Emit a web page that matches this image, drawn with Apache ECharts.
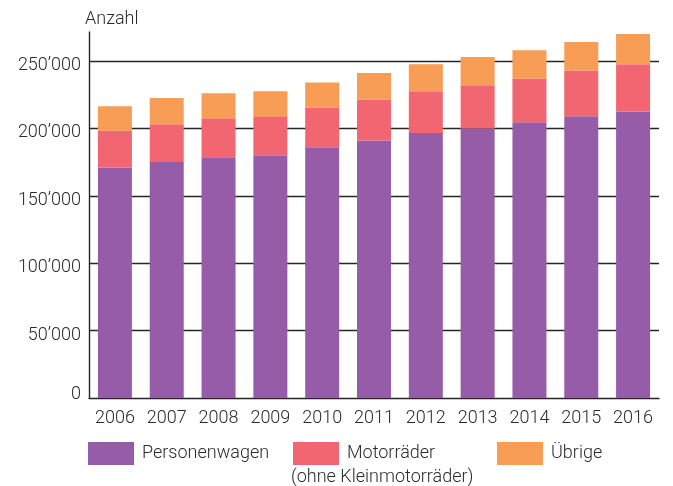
<!DOCTYPE html>
<html>
<head>
<meta charset="utf-8">
<script src="https://cdn.jsdelivr.net/npm/echarts@6/dist/echarts.min.js"></script>
<style>
  html, body { margin: 0; padding: 0; background: #fff; }
  #chart { width: 673px; height: 486px; }
</style>
</head>
<body>
<div id="chart"></div>
<script>
const years = ['2006', '2007', '2008', '2009', '2010', '2011', '2012', '2013', '2014', '2015', '2016'];
const personenwagen = [171000, 175000, 178500, 180000, 186000, 191000, 196500, 200000, 204500, 209000, 212500];
const motorraeder = [27500, 28000, 29000, 29000, 29500, 30500, 31000, 32000, 32500, 34000, 35000];
const uebrige = [18000, 19500, 18500, 18500, 18500, 19500, 20000, 21000, 21000, 21000, 22500];

const FONT = 'Roboto';
const TXT = '#2b2b2b';
const LINE = '#262626';
const FS = 18;

const chart = echarts.init(document.getElementById('chart'));

function fmt(v) {
  if (v === 0) return '{z|0}';
  const s = String(v);
  return s.slice(0, s.length - 3) + '\u2019' + s.slice(-3);
}

function legendAt(name, left) {
  return {
    data: [name],
    left: left,
    top: 442,
    padding: 0,
    itemWidth: 46,
    itemHeight: 23,
    icon: 'rect',
    selectedMode: false,
    textStyle: { fontFamily: FONT, fontWeight: 300, fontSize: FS, color: TXT, padding: [2, 0, 0, 3] }
  };
}

const option = {
  animation: false,
  title: {
    text: 'Anzahl',
    left: 80,
    top: 5,
    textStyle: { fontFamily: FONT, fontWeight: 300, fontSize: FS, color: TXT }
  },
  legend: [
    legendAt('Personenwagen', 88),
    legendAt('Motorräder', 293),
    legendAt('Übrige', 497)
  ],
  graphic: [{
    type: 'text',
    left: 291,
    top: 468,
    style: { text: '(ohne Kleinmotorräder)', fontFamily: FONT, fontWeight: 300, fontSize: FS, fill: TXT }
  }],
  grid: { left: 89, right: 14, top: 32, bottom: 88 },
  xAxis: {
    type: 'category',
    data: years,
    axisLine: { lineStyle: { color: LINE, width: 1.4 } },
    axisTick: { inside: true, interval: 0, length: 5, lineStyle: { color: LINE, width: 1.2 } },
    axisLabel: { interval: 0, fontFamily: FONT, fontWeight: 300, fontSize: FS, color: TXT, margin: 11 }
  },
  yAxis: {
    type: 'value',
    min: 0,
    max: 271500,
    interval: 50000,
    axisLine: { show: true, lineStyle: { color: LINE, width: 1.4 } },
    axisTick: { show: false },
    axisLabel: {
      fontFamily: FONT, fontWeight: 300, fontSize: FS, color: TXT, margin: 8,
      showMaxLabel: false,
      padding: [9, 0, 0, 0],
      formatter: fmt,
      rich: { z: { fontFamily: FONT, fontWeight: 300, fontSize: FS, color: TXT, padding: [0, 0, 17, 0] } }
    },
    splitLine: { show: true, showMinLine: false, showMaxLine: false, lineStyle: { color: LINE, width: 1.4 } }
  },
  series: [
    { name: 'Personenwagen', type: 'bar', stack: 'a', data: personenwagen, barWidth: 34, itemStyle: { color: '#965ca7' } },
    { name: 'Motorräder', type: 'bar', stack: 'a', data: motorraeder, itemStyle: { color: '#f16670' } },
    { name: 'Übrige', type: 'bar', stack: 'a', data: uebrige, itemStyle: { color: '#f89d55' } }
  ]
};

chart.setOption(option);
</script>
</body>
</html>
